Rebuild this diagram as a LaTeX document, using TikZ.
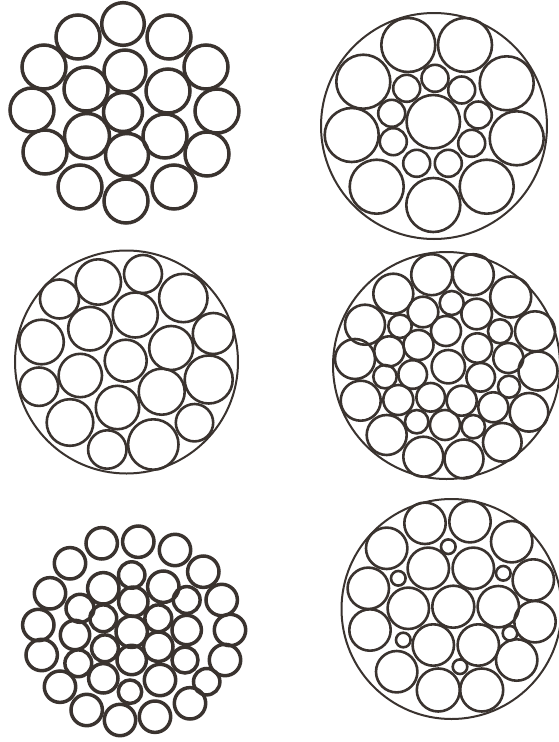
\documentclass[tikz,border=0pt]{standalone}
\definecolor{ink}{RGB}{58,51,47}
\tikzset{
  wire/.style={draw=ink, line width=2.6pt},
  thickwire/.style={draw=ink, line width=3.5pt},
  sheath/.style={draw=ink, line width=2pt}
}
\begin{document}
\begin{tikzpicture}[x=1pt,y=-1pt]
\useasboundingbox (0,0) rectangle (559,742);
% ---------- panel 1 (top left) ----------
\foreach \x/\y/\r in {123/24/21.3, 78/37/22, 169/37/22, 44/67/22, 206/67/22,
  32/110/22, 217/111/22, 45/152/22, 207/154/22, 80/187/22, 174/187/22, 126/201/22,
  123/112/19.5, 125/71/21, 168/91/22, 165/136/22, 127/155/21.5, 87/136/22.5, 86/89/22}
  \draw[thickwire] (\x,\y) circle[radius=\r pt];
% ---------- panel 2 (top right) ----------
\draw[sheath] (434,126) circle[radius=113pt];
\foreach \x/\y/\r in {408.3/45/27, 465/45/27, 506.7/83.3/27, 516.7/138.3/27,
  486.7/186.7/27, 433.3/205/27, 376.7/186.7/27, 351.7/135/27, 363.3/81.7/27,
  433.3/121.7/26.7,
  406.7/88.3/13.5, 435/78.3/13.5, 461.7/90/13.5, 478.3/115/13.5, 471.7/143.3/13.5,
  448.3/163.3/13.5, 416.7/163.3/13.5, 393.3/141.7/13.5, 391.7/113.3/13.5}
  \draw[wire] (\x,\y) circle[radius=\r pt];
% ---------- panel 3 (middle left) ----------
\draw[sheath] (126.5,362) circle[radius=111.5pt];
\foreach \x/\y/\r in {98.3/282/22.7, 143/274/19, 183.3/298/24.2, 59.5/299/19.5,
  90/328.7/21.8, 135.3/315/22.5, 213.3/333.5/20.5, 41.5/342/22.3, 171.2/348/22,
  125.7/360.7/21, 80.3/375.5/21.7, 208.7/379.5/24, 39/386.7/19.2, 161.7/391.7/23,
  117.5/407.5/21.7, 70/422.5/23.3, 194.5/422.7/18.7, 107.3/449.5/19.2, 153.3/444.5/25.2}
  \draw[wire] (\x,\y) circle[radius=\r pt];
% ---------- panel 4 (middle right) ----------
\draw[sheath] (446.5,365.5) circle[radius=113.5pt];
\foreach \x/\y/\r in {431.7/274.7/20.5, 473.3/274.7/20.5, 510.7/297/20.5,
  393.3/293.7/20, 365/324.7/20, 535/331.3/20, 355/359/20, 538/371/19.5,
  360.7/400.7/20, 529/412.3/19.3, 386.7/435/20, 502.3/442.3/19.3,
  423.3/456.7/20, 464/459/19.5,
  423/312/15.3, 451.7/303/12, 476.7/314/15.3, 400/326.3/11.7, 500/331.3/12,
  446/331/15, 389.3/351.3/15, 418.5/345/15, 477.3/348/14.7, 508.3/358/15,
  385/376.7/11.7, 412.7/374.5/14.3, 448.3/366.7/16.7, 480.7/377.3/14.3,
  509/386.7/11, 398.3/400/15, 430.7/397.3/14.3, 461.7/400.7/15, 493.3/407.3/15,
  416.7/421.7/11.7, 445/425/15, 473.3/426.7/11.7}
  \draw[wire] (\x,\y) circle[radius=\r pt];
% ---------- panel 5 (bottom left) ----------
\foreach \x/\y/\r in {101.7/543.3/15, 138.3/541.7/15, 175/550/15, 70/563.3/15,
  203.3/571.7/15, 50/593.3/15, 221.7/600/15, 38.3/625/15, 230/630/15,
  41.7/655/15, 225/660/15, 60/686.7/15, 206.7/681.7/12.5, 86.7/710/15,
  190/703.3/15, 120/720/15, 155/716.7/15,
  131.7/575/12.5, 103.3/588.3/15, 163.3/586.7/15, 80/608.3/13.3, 133.3/601.7/14,
  186.7/600/12.7, 103.3/618.3/12.7, 158.3/618.3/12.7, 75/635/14, 131.7/631.7/15,
  186.7/630/14, 105/648.3/12.7, 158.3/646.7/14, 78.3/663.3/12.7, 131.7/660/14,
  185/660/12.3, 103.3/678.3/14, 160/680/15, 130/691.7/11}
  \draw[thickwire] (\x,\y) circle[radius=\r pt+0.7pt];
% ---------- panel 6 (bottom right) ----------
\draw[sheath] (451.5,609) circle[radius=110pt];
\foreach \x/\y/\r in {425/523.3/20.7, 470/521.7/20.7, 511.7/541.7/20.7,
  386.7/548.3/20.7, 533.3/580/20.7, 368.3/588.3/20.7, 535/621.7/20.7,
  370/630/20.7, 516.7/660/20.7, 396.7/671.7/20.7, 438.3/690/21.5, 481.7/690/21.5,
  428.3/568.3/20.7, 473.3/568.3/20.7, 408.3/608.3/20.7, 453.3/606.7/21,
  498.3/606.7/20.7, 433.3/645/20.7, 478.3/645/20.7,
  448.3/546.7/7.3, 503.3/573.3/7.3, 398.3/578.3/7.3, 510/633.3/7.3,
  403.3/640/7.3, 460/666.7/7.3}
  \draw[wire] (\x,\y) circle[radius=\r pt];
\end{tikzpicture}
\end{document}
